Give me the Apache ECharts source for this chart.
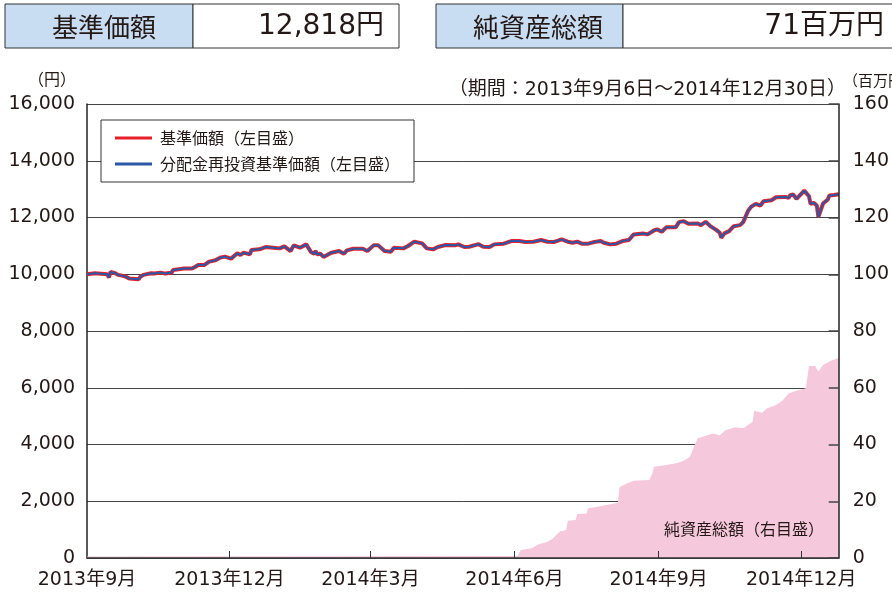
<!DOCTYPE html>
<html>
<head>
<meta charset="utf-8">
<script src="https://cdn.jsdelivr.net/npm/echarts@6.0.0/dist/echarts.min.js"></script>
<style>
  html, body { margin: 0; padding: 0; background: #fff; }
  #chart { width: 892px; height: 594px; }
</style>
</head>
<body>
<div id="chart"></div>
<script>
// 基準価額 (分配金なしのため再投資後も同じ値)
const navDates = [
  "2013-09-06","2013-09-11","2013-09-12","2013-09-19","2013-09-20","2013-09-21","2013-09-24","2013-09-26",
  "2013-09-27","2013-09-29","2013-10-01","2013-10-03","2013-10-09","2013-10-10","2013-10-12","2013-10-17",
  "2013-10-19","2013-10-23","2013-10-26","2013-10-30","2013-10-31","2013-11-07","2013-11-12","2013-11-14",
  "2013-11-16","2013-11-20","2013-11-23","2013-11-27","2013-11-30","2013-12-03","2013-12-07","2013-12-11",
  "2013-12-13","2013-12-15","2013-12-19","2013-12-20","2013-12-25","2013-12-29","2014-01-03","2014-01-07",
  "2014-01-10","2014-01-14","2014-01-16","2014-01-20","2014-01-24","2014-01-27","2014-01-29","2014-01-30",
  "2014-01-31","2014-02-02","2014-02-04","2014-02-09","2014-02-14","2014-02-17","2014-02-19","2014-02-23",
  "2014-03-01","2014-03-04","2014-03-08","2014-03-11","2014-03-15","2014-03-19","2014-03-21","2014-03-27",
  "2014-03-30","2014-04-03","2014-04-08","2014-04-11","2014-04-15","2014-04-18","2014-04-23","2014-04-29",
  "2014-05-01","2014-05-05","2014-05-08","2014-05-14","2014-05-17","2014-05-21","2014-05-24","2014-05-30",
  "2014-06-04","2014-06-09","2014-06-13","2014-06-18","2014-06-23","2014-06-27","2014-07-01","2014-07-06",
  "2014-07-10","2014-07-13","2014-07-16","2014-07-19","2014-07-23","2014-07-27","2014-07-31","2014-08-02",
  "2014-08-06","2014-08-10","2014-08-14","2014-08-18","2014-08-21","2014-08-27","2014-08-30","2014-09-03",
  "2014-09-05","2014-09-08","2014-09-11","2014-09-17","2014-09-19","2014-09-22","2014-09-25","2014-09-26",
  "2014-10-01","2014-10-03","2014-10-06","2014-10-09","2014-10-13","2014-10-15","2014-10-16","2014-10-18",
  "2014-10-21","2014-10-24","2014-10-28","2014-10-30","2014-11-02","2014-11-04","2014-11-07","2014-11-10",
  "2014-11-12","2014-11-17","2014-11-20","2014-11-26","2014-11-28","2014-11-29","2014-12-01","2014-12-03",
  "2014-12-05","2014-12-08","2014-12-11","2014-12-12","2014-12-14","2014-12-16","2014-12-17","2014-12-20",
  "2014-12-23","2014-12-24","2014-12-27","2014-12-30"
];
const navValues = [
  10000,10035,10000,10000,9885,10080,10035,9977,
  10023,9942,9907,9850,9825,9907,9977,10035,
  10023,10058,10023,10058,10150,10200,10200,10257,
  10327,10327,10445,10491,10585,10620,10550,10737,
  10678,10760,10702,10853,10877,10960,10936,10912,
  10985,10818,11018,10937,11053,10783,10725,10818,
  10702,10725,10608,10760,10818,10725,10842,10900,
  10900,10818,11018,11018,10818,10795,10936,10912,
  10995,11147,11088,10912,10877,10960,11030,11018,
  11053,10960,10970,11060,10971,10960,11053,11077,
  11170,11170,11135,11147,11205,11147,11135,11228,
  11147,11112,11147,11077,11077,11135,11170,11112,
  11053,11077,11170,11205,11404,11439,11404,11544,
  11580,11500,11660,11660,11836,11871,11780,11731,
  11790,11731,11850,11695,11555,11462,11288,11439,
  11520,11695,11731,11836,12222,12375,12482,12422,
  12573,12608,12713,12725,12690,12783,12808,12655,
  12773,12948,12750,12482,12515,12422,12025,12492,
  12633,12773,12790,12818
];
const reinvestValues = navValues;

// 純資産総額 (百万円)
const aumDates = [
  "2013-09-06","2014-06-08","2014-06-10","2014-06-17","2014-06-21","2014-06-27","2014-06-30","2014-07-05",
  "2014-07-09","2014-07-10","2014-07-15","2014-07-16","2014-07-22","2014-07-23","2014-07-29","2014-08-06",
  "2014-08-11","2014-08-12","2014-08-17","2014-08-21","2014-08-31","2014-09-02","2014-09-03","2014-09-11",
  "2014-09-18","2014-09-22","2014-09-26","2014-09-29","2014-10-01","2014-10-07","2014-10-11","2014-10-15",
  "2014-10-19","2014-10-25","2014-10-30","2014-11-05","2014-11-06","2014-11-11","2014-11-14","2014-11-20",
  "2014-11-24","2014-11-28","2014-12-03","2014-12-09","2014-12-11","2014-12-15","2014-12-17","2014-12-20",
  "2014-12-25","2014-12-30"
];
const aumValues = [
  0.5,0.7,2.8,3.4,4.8,5.7,6.7,9.3,
  9.9,13.1,13.4,15.5,15.7,17.5,18.1,18.9,
  19.5,24.9,26.3,27.2,27.5,29.8,32.2,32.8,
  33.5,34.3,35.7,39.8,42.2,43.3,43.9,43.3,
  45.1,46.1,45.7,48.0,51.9,51.2,52.7,53.9,
  55.4,58.0,58.9,59.8,67.7,67.7,65.7,68.0,
  69.5,70.5
];

const tickDates = ["2013-12-06","2014-03-06","2014-06-06","2014-09-06","2014-12-06"];
const labelDates = ["2013-09-06"].concat(tickDates);

const ts = s => echarts.time.parse(s).getTime();
const pairs = (d, v) => d.map((x, i) => [ts(x), v[i]]);

const fontNum = "'DejaVu Sans', 'Noto Sans CJK JP', sans-serif";
const fontJp = "'Noto Sans CJK JP', sans-serif";
const ink = "#231815";

const chart = echarts.init(document.getElementById("chart"), null, { renderer: "canvas" });
chart.setOption({
  animation: false,
  grid: { left: 87, right: 50, top: 104, bottom: 36 },
  legend: {
    data: [
      { name: "基準価額（左目盛）", icon: "rect" },
      { name: "分配金再投資基準価額（左目盛）", icon: "rect" }
    ],
    orient: "vertical",
    left: 101,
    top: 120,
    padding: [10, 14, 10, 14],
    itemGap: 10,
    itemWidth: 37,
    itemHeight: 3,
    backgroundColor: "#fff",
    borderColor: "#333",
    borderWidth: 1,
    textStyle: { fontFamily: fontJp, fontSize: 16, color: ink, padding: [0, 0, 0, 3] }
  },
  xAxis: {
    type: "value",
    min: ts("2013-09-06"),
    max: ts("2014-12-30"),
    z: 10,
    axisLine: { lineStyle: { color: "#333", width: 1.5 } },
    axisTick: {
      inside: true, length: 7,
      customValues: tickDates.map(ts),
      lineStyle: { color: "#333", width: 1 }
    },
    axisLabel: {
      customValues: labelDates.map(ts),
      margin: 13,
      fontFamily: fontNum,
      fontSize: 19,
      color: ink,
      formatter: v => {
        const d = new Date(v);
        return d.getFullYear() + "年" + (d.getMonth() + 1) + "月";
      }
    },
    splitLine: { show: false }
  },
  yAxis: [
    {
      type: "value",
      min: 0, max: 16000, interval: 2000,
      axisLine: { show: true, lineStyle: { color: "#222", width: 1.5 } },
      axisTick: { show: false },
      splitLine: { lineStyle: { color: "#444", width: 1 } },
      axisLabel: {
        margin: 12,
        fontFamily: fontNum, fontSize: 19, color: ink,
        formatter: v => v.toLocaleString("en-US")
      }
    },
    {
      type: "value",
      position: "right",
      min: 0, max: 160, interval: 20,
      z: 10,
      axisLine: { show: true, lineStyle: { color: "#222", width: 1.5 } },
      axisTick: { show: true, inside: true, length: 10, lineStyle: { color: "#444", width: 1.5 } },
      splitLine: { show: false },
      axisLabel: { margin: 14, fontFamily: fontNum, fontSize: 19, color: ink }
    }
  ],
  series: [
    {
      name: "純資産総額（右目盛）",
      type: "line",
      yAxisIndex: 1,
      symbol: "none",
      data: pairs(aumDates, aumValues),
      lineStyle: { width: 0 },
      areaStyle: { color: "#f6c8dc", opacity: 1 },
      z: 1
    },
    {
      name: "基準価額（左目盛）",
      type: "line",
      symbol: "none",
      data: pairs(navDates, navValues),
      lineStyle: { color: "#e8202a", width: 4 },
      itemStyle: { color: "#e8202a" },
      z: 3
    },
    {
      name: "分配金再投資基準価額（左目盛）",
      type: "line",
      symbol: "none",
      data: pairs(navDates, reinvestValues),
      lineStyle: { color: "#2a57a6", width: 2 },
      itemStyle: { color: "#2a57a6" },
      z: 4
    }
  ],
  graphic: [
    // header boxes
    { type: "rect", shape: { x: 5, y: 4, width: 188, height: 44 }, style: { fill: "#c8ddf2", stroke: "#333", lineWidth: 1 } },
    { type: "rect", shape: { x: 193, y: 4, width: 206, height: 44 }, style: { fill: "#fff", stroke: "#333", lineWidth: 1 } },
    { type: "rect", shape: { x: 436, y: 4, width: 187, height: 44 }, style: { fill: "#c8ddf2", stroke: "#333", lineWidth: 1 } },
    { type: "rect", shape: { x: 623, y: 4, width: 275, height: 44 }, style: { fill: "#fff", stroke: "#333", lineWidth: 1 } },
    { type: "text", x: 104, y: 27, style: { text: "基準価額", font: "26px " + fontJp, fill: ink, textAlign: "center", textVerticalAlign: "middle" } },
    { type: "text", x: 384, y: 27, style: { text: "12,818円", font: "28px " + fontNum, fill: ink, textAlign: "right", textVerticalAlign: "middle" } },
    { type: "text", x: 538, y: 27, style: { text: "純資産総額", font: "26px " + fontJp, fill: ink, textAlign: "center", textVerticalAlign: "middle" } },
    { type: "text", x: 884, y: 27, style: { text: "71百万円", font: "28px " + fontNum, fill: ink, textAlign: "right", textVerticalAlign: "middle" } },
    // axis units and notes
    { type: "text", x: 76, y: 79, style: { text: "（円）", font: "16px " + fontJp, fill: ink, textAlign: "right", textVerticalAlign: "middle" } },
    { type: "text", x: 846, y: 90, style: { text: "（期間：2013年9月6日～2014年12月30日）", font: "19px " + fontNum, fill: ink, textAlign: "right", textVerticalAlign: "middle" } },
    { type: "text", x: 843, y: 80, style: { text: "（百万円）", font: "15px " + fontJp, fill: ink, textAlign: "left", textVerticalAlign: "middle" } },
    { type: "text", x: 664, y: 529, z: 20, style: { text: "純資産総額（右目盛）", font: "16px " + fontJp, fill: ink, textAlign: "left", textVerticalAlign: "middle" } }
  ]
});
</script>
</body>
</html>
